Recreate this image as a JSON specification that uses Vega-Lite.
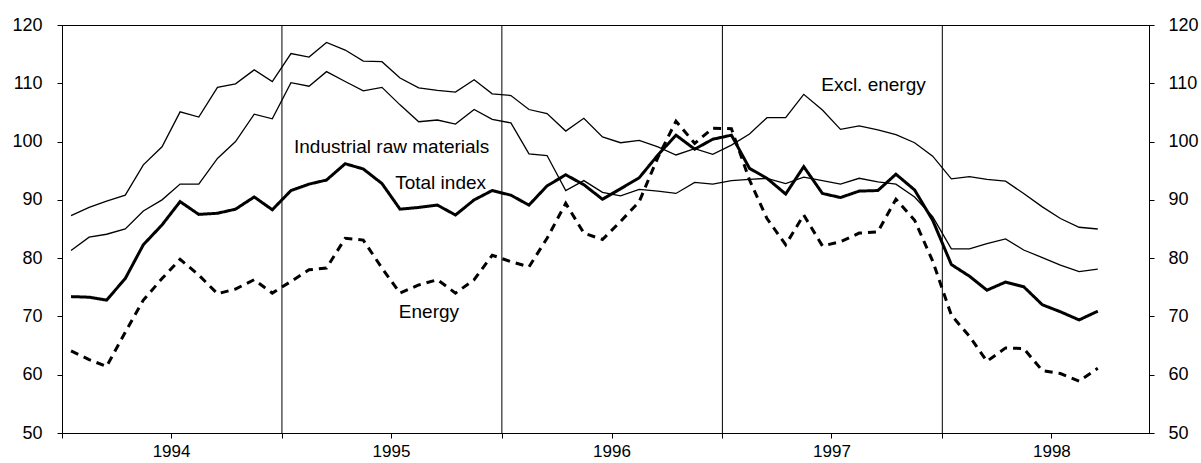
{
  "$schema": "https://vega.github.io/schema/vega-lite/v6.json",
  "width": 1087,
  "height": 408,
  "autosize": {"type": "none"},
  "padding": {"left": 62, "top": 25, "right": 52, "bottom": 30},
  "background": "white",
  "config": {
    "view": {"stroke": "black", "strokeWidth": 1},
    "axis": {
      "grid": false,
      "domainColor": "black",
      "tickColor": "black",
      "labelColor": "black",
      "labelFont": "Liberation Sans",
      "labelFontSize": 18,
      "tickSize": 5,
      "domainWidth": 1,
      "tickWidth": 1,
      "title": null
    }
  },
  "datasets": {
    "prices": [
      {"date": "1994/01/16", "excl": 87.3, "irm": 81.3, "total": 73.4, "energy": 64.1},
      {"date": "1994/02/15", "excl": 88.7, "irm": 83.6, "total": 73.3, "energy": 62.6},
      {"date": "1994/03/16", "excl": 89.8, "irm": 84.1, "total": 72.8, "energy": 61.4},
      {"date": "1994/04/16", "excl": 90.8, "irm": 85.0, "total": 76.5, "energy": 67.3},
      {"date": "1994/05/16", "excl": 96.0, "irm": 88.1, "total": 82.3, "energy": 72.8},
      {"date": "1994/06/16", "excl": 99.1, "irm": 90.0, "total": 85.7, "energy": 76.5},
      {"date": "1994/07/16", "excl": 105.1, "irm": 92.7, "total": 89.7, "energy": 79.8},
      {"date": "1994/08/16", "excl": 104.2, "irm": 92.7, "total": 87.5, "energy": 77.1},
      {"date": "1994/09/16", "excl": 109.3, "irm": 97.1, "total": 87.7, "energy": 73.9},
      {"date": "1994/10/16", "excl": 109.9, "irm": 100.0, "total": 88.4, "energy": 74.7},
      {"date": "1994/11/16", "excl": 112.3, "irm": 104.7, "total": 90.5, "energy": 76.3},
      {"date": "1994/12/16", "excl": 110.3, "irm": 103.9, "total": 88.3, "energy": 74.0},
      {"date": "1995/01/16", "excl": 115.1, "irm": 110.1, "total": 91.6, "energy": 76.0},
      {"date": "1995/02/15", "excl": 114.5, "irm": 109.5, "total": 92.7, "energy": 78.0},
      {"date": "1995/03/16", "excl": 117.0, "irm": 112.0, "total": 93.4, "energy": 78.3},
      {"date": "1995/04/16", "excl": 115.7, "irm": 110.3, "total": 96.2, "energy": 83.4},
      {"date": "1995/05/16", "excl": 113.8, "irm": 108.7, "total": 95.3, "energy": 83.1},
      {"date": "1995/06/16", "excl": 113.7, "irm": 109.3, "total": 92.8, "energy": 78.3},
      {"date": "1995/07/16", "excl": 110.9, "irm": 106.3, "total": 88.4, "energy": 74.0},
      {"date": "1995/08/16", "excl": 109.2, "irm": 103.4, "total": 88.7, "energy": 75.4},
      {"date": "1995/09/16", "excl": 108.8, "irm": 103.7, "total": 89.1, "energy": 76.3},
      {"date": "1995/10/16", "excl": 108.5, "irm": 103.0, "total": 87.4, "energy": 74.0},
      {"date": "1995/11/16", "excl": 110.6, "irm": 105.5, "total": 90.0, "energy": 76.3},
      {"date": "1995/12/16", "excl": 108.2, "irm": 103.8, "total": 91.6, "energy": 80.5},
      {"date": "1996/01/16", "excl": 107.9, "irm": 103.2, "total": 90.8, "energy": 79.4},
      {"date": "1996/02/15", "excl": 105.5, "irm": 97.9, "total": 89.1, "energy": 78.5},
      {"date": "1996/03/16", "excl": 104.8, "irm": 97.6, "total": 92.4, "energy": 83.4},
      {"date": "1996/04/16", "excl": 101.8, "irm": 91.6, "total": 94.3, "energy": 89.4},
      {"date": "1996/05/16", "excl": 104.0, "irm": 93.3, "total": 92.6, "energy": 84.3},
      {"date": "1996/06/16", "excl": 100.8, "irm": 91.3, "total": 90.1, "energy": 83.2},
      {"date": "1996/07/16", "excl": 99.8, "irm": 90.7, "total": 91.9, "energy": 86.3},
      {"date": "1996/08/16", "excl": 100.2, "irm": 91.8, "total": 93.8, "energy": 89.7},
      {"date": "1996/09/16", "excl": 99.1, "irm": 91.5, "total": 97.7, "energy": 97.3},
      {"date": "1996/10/16", "excl": 97.7, "irm": 91.1, "total": 101.1, "energy": 103.5},
      {"date": "1996/11/16", "excl": 98.8, "irm": 93.0, "total": 98.7, "energy": 99.7},
      {"date": "1996/12/16", "excl": 97.8, "irm": 92.7, "total": 100.4, "energy": 102.3},
      {"date": "1997/01/16", "excl": 99.4, "irm": 93.3, "total": 101.1, "energy": 102.2},
      {"date": "1997/02/15", "excl": 101.3, "irm": 93.5, "total": 95.4, "energy": 93.4},
      {"date": "1997/03/16", "excl": 104.1, "irm": 93.7, "total": 93.7, "energy": 86.8},
      {"date": "1997/04/16", "excl": 104.1, "irm": 92.8, "total": 91.0, "energy": 82.3},
      {"date": "1997/05/16", "excl": 108.1, "irm": 93.9, "total": 95.7, "energy": 87.4},
      {"date": "1997/06/16", "excl": 105.4, "irm": 93.3, "total": 91.1, "energy": 82.1},
      {"date": "1997/07/16", "excl": 102.1, "irm": 92.7, "total": 90.4, "energy": 82.8},
      {"date": "1997/08/16", "excl": 102.7, "irm": 93.7, "total": 91.5, "energy": 84.3},
      {"date": "1997/09/16", "excl": 102.0, "irm": 93.1, "total": 91.6, "energy": 84.5},
      {"date": "1997/10/16", "excl": 101.2, "irm": 92.7, "total": 94.4, "energy": 90.1},
      {"date": "1997/11/16", "excl": 99.8, "irm": 90.5, "total": 91.7, "energy": 86.5},
      {"date": "1997/12/16", "excl": 97.5, "irm": 87.1, "total": 86.5, "energy": 79.5},
      {"date": "1998/01/16", "excl": 93.6, "irm": 81.6, "total": 78.9, "energy": 70.2},
      {"date": "1998/02/15", "excl": 94.0, "irm": 81.6, "total": 76.9, "energy": 66.6},
      {"date": "1998/03/16", "excl": 93.5, "irm": 82.5, "total": 74.5, "energy": 62.3},
      {"date": "1998/04/16", "excl": 93.2, "irm": 83.3, "total": 75.9, "energy": 64.6},
      {"date": "1998/05/16", "excl": 91.1, "irm": 81.4, "total": 75.1, "energy": 64.5},
      {"date": "1998/06/16", "excl": 88.8, "irm": 80.1, "total": 72.0, "energy": 60.7},
      {"date": "1998/07/16", "excl": 86.8, "irm": 78.8, "total": 70.8, "energy": 60.2},
      {"date": "1998/08/16", "excl": 85.3, "irm": 77.7, "total": 69.4, "energy": 58.9},
      {"date": "1998/09/16", "excl": 85.0, "irm": 78.1, "total": 70.9, "energy": 61.1}
    ],
    "years": [
      {"date": "1995/01/01"},
      {"date": "1996/01/01"},
      {"date": "1997/01/01"},
      {"date": "1998/01/01"}
    ],
    "labels": [
      {"label": "Industrial raw materials", "date": "1995/01/21", "value": 98.1},
      {"label": "Total index", "date": "1995/07/08", "value": 91.8},
      {"label": "Excl. energy", "date": "1997/06/14", "value": 108.6},
      {"label": "Energy", "date": "1995/07/14", "value": 69.7}
    ]
  },
  "encoding": {
    "x": {
      "field": "date",
      "type": "temporal",
      "scale": {
        "domain": [
          {"year": 1994, "month": 1, "date": 1},
          {"year": 1998, "month": 12, "date": 10}
        ]
      },
      "axis": {
        "values": [
          {"year": 1994, "month": 1, "date": 1},
          {"year": 1994, "month": 7, "date": 1},
          {"year": 1995, "month": 1, "date": 1},
          {"year": 1995, "month": 7, "date": 1},
          {"year": 1996, "month": 1, "date": 1},
          {"year": 1996, "month": 7, "date": 1},
          {"year": 1997, "month": 1, "date": 1},
          {"year": 1997, "month": 7, "date": 1},
          {"year": 1998, "month": 1, "date": 1},
          {"year": 1998, "month": 7, "date": 1}
        ],
        "labelExpr": "month(datum.value) == 6 ? timeFormat(datum.value, '%Y') : ''",
        "labelFontSize": 17,
        "labelPadding": 5,
        "labelFlush": false,
        "labelOverlap": false,
        "title": null
      }
    }
  },
  "layer": [
    {
      "data": {"name": "years"},
      "mark": {"type": "rule", "color": "black", "strokeWidth": 1},
      "encoding": {}
    },
    {
      "data": {"name": "prices"},
      "transform": [
        {"fold": ["excl", "irm"], "as": ["series", "value"]}
      ],
      "mark": {"type": "line", "color": "black", "strokeWidth": 1.3, "strokeJoin": "miter"},
      "encoding": {
        "y": {
          "field": "value",
          "type": "quantitative",
          "scale": {"domain": [50, 120], "nice": false, "zero": false},
          "axis": {
            "orient": "left",
            "values": [50, 60, 70, 80, 90, 100, 110, 120],
            "labelPadding": 15,
            "title": null
          }
        },
        "detail": {"field": "series"}
      }
    },
    {
      "data": {"name": "prices"},
      "transform": [
        {"fold": ["total", "energy"], "as": ["series", "value"]}
      ],
      "mark": {"type": "line", "color": "black", "strokeWidth": 3, "strokeCap": "butt", "strokeJoin": "miter"},
      "encoding": {
        "y": {"field": "value", "type": "quantitative", "axis": null},
        "detail": {"field": "series"},
        "strokeDash": {
          "field": "series",
          "type": "nominal",
          "scale": {"domain": ["total", "energy"], "range": [[1, 0], [8, 6]]},
          "legend": null
        }
      }
    },
    {
      "data": {"name": "labels"},
      "mark": {
        "type": "text",
        "align": "left",
        "baseline": "alphabetic",
        "font": "Liberation Sans",
        "fontSize": 19,
        "color": "black"
      },
      "encoding": {
        "text": {"field": "label"},
        "y": {
          "field": "value",
          "type": "quantitative",
          "axis": {
            "orient": "right",
            "values": [50, 60, 70, 80, 90, 100, 110, 120],
            "labelPadding": 14,
            "title": null
          }
        }
      }
    }
  ],
  "resolve": {"axis": {"y": "independent"}}
}
